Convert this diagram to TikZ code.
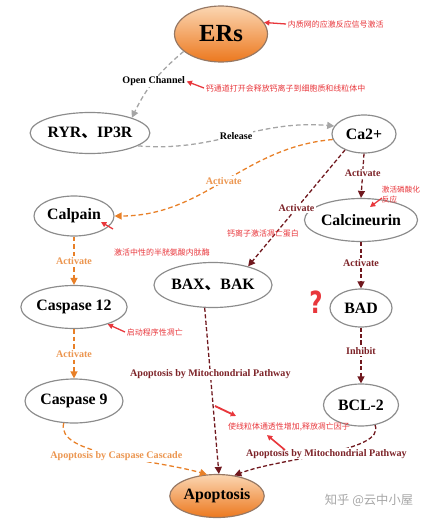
\documentclass[tikz,border=0pt]{standalone}
\usepackage{fontspec}
\setmainfont{Liberation Serif}
\newfontfamily\cjk{Noto Sans CJK SC}
\newfontfamily\qfont{DejaVu Sans}
\usepackage{tikz}
\usetikzlibrary{arrows.meta,shapes.geometric}
\definecolor{rimgray}{RGB}{140,140,140}
\definecolor{rimbrown}{RGB}{150,120,100}
\definecolor{peach}{RGB}{251,214,178}
\definecolor{deeporange}{RGB}{236,120,30}
\definecolor{linkgray}{RGB}{165,165,165}
\definecolor{calorange}{RGB}{232,128,40}
\definecolor{ortext}{RGB}{236,150,80}
\definecolor{mitored}{RGB}{112,24,30}
\definecolor{mitotext}{RGB}{125,35,40}
\definecolor{notered}{RGB}{232,55,60}
\tikzset{blob/.style={ellipse,draw=rimgray,line width=1pt,fill=white,inner sep=0pt,font=\fontsize{13.5}{15}\selectfont\bfseries},
  hot/.style={blob,draw=rimbrown,top color=peach,bottom color=deeporange},
  link/.style={line width=1.1pt,dash pattern=on 4pt off 2.5pt,-{Triangle[length=6pt,width=6pt]}},
  greylink/.style={link,draw=linkgray},
  orlink/.style={link,draw=calorange},
  redlink/.style={link,draw=mitored,dash pattern=on 3.5pt off 2pt},
  lbl/.style={fill=white,inner sep=1pt,font=\fontsize{8.6}{10}\selectfont\bfseries},
  orlbl/.style={lbl,text=ortext},
  redlbl/.style={lbl,text=mitotext},
  note/.style={text=notered,inner sep=1.5pt,font=\cjk\fontsize{6.8}{8}\selectfont},
  pointer/.style={draw=notered,line width=1.1pt,-{Triangle[length=4.5pt,width=4.5pt]}}}

\begin{document}
\begin{tikzpicture}[x=0.3cm,y=-0.3cm,line join=round]
\useasboundingbox (0,0) rectangle (42.9,52.1);
% --- compartments and proteins
\node[hot,minimum width=2.79cm,minimum height=1.68cm,font=\fontsize{21}{24}\selectfont\bfseries] (ers) at (22.1,3.4) {ERs};
\node[blob,minimum width=3.51cm,minimum height=1.23cm] (ryr) at (9.0,13.3) {RYR{\cjk 、}IP3R};
\node[blob,minimum width=1.92cm,minimum height=1.14cm] (ca) at (36.4,13.4) {Ca2+};
\node[blob,minimum width=2.4cm,minimum height=1.2cm] (calpain) at (7.4,21.6) {Calpain};
\node[blob,minimum width=3.24cm,minimum height=1.29cm] (calc) at (36.1,22.0) {Calcineurin};
\node[blob,minimum width=3.48cm,minimum height=1.35cm] (bax) at (21.3,28.5) {BAX{\cjk 、}BAK};
\node[blob,minimum width=1.86cm,minimum height=1.14cm] (bad) at (36.1,30.8) {BAD};
\node[blob,minimum width=3.12cm,minimum height=1.29cm] (cas12) at (7.4,30.7) {Caspase 12};
\node[blob,minimum width=2.94cm,minimum height=1.32cm] (cas9) at (7.4,40.1) {Caspase 9};
\node[blob,minimum width=2.25cm,minimum height=1.26cm] (bcl) at (36.1,40.5) {BCL-2};
\node[hot,minimum width=2.79cm,minimum height=1.29cm] (apop) at (21.7,49.6) {Apoptosis};

% --- calcium release
\draw[greylink] (ers.205) to[bend right=12] node[lbl] (open) {Open Channel} (ryr.20);
\draw[greylink] (ryr.-15) to[out=-5,in=175] node[lbl] (release) {Release} (ca.165);

% --- calpain / caspase cascade
\draw[orlink] (ca.190) to[out=185,in=0] node[orlbl] (act1) {Activate} (calpain.east);
\draw[orlink] (calpain.south) -- node[orlbl] (act2) {Activate} (cas12.north);
\draw[orlink] (cas12.south) -- node[orlbl] (act3) {Activate} (cas9.north);
\draw[orlink] (cas9.245) .. controls +(-0.8,3.2) and +(-5.7,-1.6) .. (apop.115) node[orlbl,pos=0.53] (casc) {Apoptosis by Caspase Cascade};

% --- mitochondrial pathway
\draw[redlink] (ca.south) -- node[redlbl,pos=0.45] (act4) {Activate} (calc.north);
\draw[redlink] (ca.220) -- node[redlbl] (act5) {Activate} (bax.28);
\draw[redlink] (calc.south) -- node[redlbl,pos=0.45] (act6) {Activate} (bad.north);
\draw[redlink] (bad.south) -- node[redlbl,pos=0.42] (inh) {Inhibit} (bcl.north);
\draw[redlink] (bax.250) -- node[redlbl,pos=0.4] (mito1) {Apoptosis by Mitochondrial Pathway} (apop.85);
\draw[redlink] (bcl.-55) .. controls +(1.1,2.7) and +(4.7,-1.8) .. (apop.50) node[redlbl,pos=0.5] (mito2) {Apoptosis by Mitochondrial Pathway};

% --- red notes
\node[note,anchor=west] (n1) at (28.6,2.4) {内质网的应激反应信号激活};
\draw[pointer] (n1.west) -- (ers.15);
\node[note,anchor=west] (n2) at (20.4,8.8) {钙通道打开会释放钙离子到细胞质和线粒体中};
\draw[pointer] (n2.west) -- (open.east);
\node[note,anchor=west,align=left,font=\cjk\fontsize{6.5}{8.5}\selectfont] (n3) at (38.0,19.5) {激活磷酸化\\反应};
\coordinate (p3a) at (38.2,19.8); \coordinate (p3b) at (37.0,20.7);
\draw[pointer] (p3a) -- (p3b);
\node[note] (n4) at (16.2,25.2) {激活中性的半胱氨酸内肽酶};
\coordinate (p4a) at (11.3,22.9); \coordinate (p4b) at (10.1,22.2);
\draw[pointer] (p4a) -- (p4b);
\node[note] (n7) at (26.3,23.3) {钙离子激活凋亡蛋白};
\node[note,anchor=west] (n5) at (12.5,33.2) {启动程序性凋亡};
\draw[pointer] (n5.west) -- (cas12.-27);
\node[note] (n6) at (28.9,42.7) {使线粒体通透性增加,释放凋亡因子};
\coordinate (p6a) at (21.5,40.6); \coordinate (p6b) at (23.6,41.6);
\draw[pointer,line width=1.6pt] (p6a) -- (p6b);
\coordinate (p7a) at (28.5,45.0); \coordinate (p7b) at (26.7,43.5);
\draw[pointer,line width=1.4pt] (p7a) -- (p7b);
\node[text=notered,font=\qfont\bfseries\fontsize{26}{26}\selectfont,xscale=0.75] (qmark) at (31.6,30.2) {?};

\node[text=gray!70,font=\cjk\fontsize{10.5}{12}\selectfont] (mark) at (36.9,50.0) {知乎 @云中小屋};
\end{tikzpicture}
\end{document}
